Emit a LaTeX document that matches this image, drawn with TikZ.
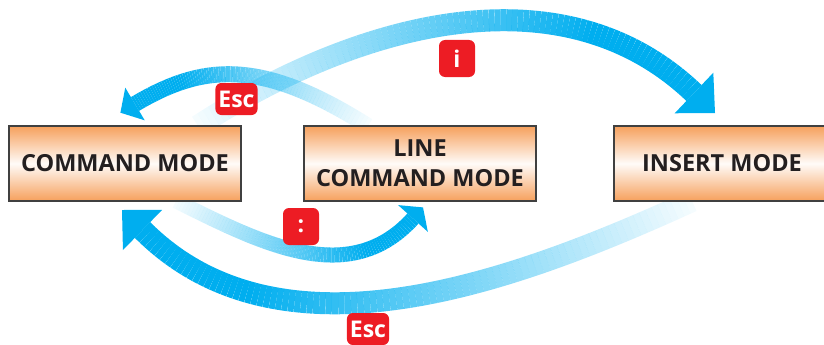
\documentclass[tikz,border=0pt]{standalone}
\usepackage{fontspec}
\setmainfont{Open Sans}
\usetikzlibrary{calc}

\definecolor{bandblue}{RGB}{0,174,239}
\definecolor{keyred}{RGB}{237,28,36}
\definecolor{boxorange}{RGB}{246,160,92}
\definecolor{boxtext}{RGB}{35,31,32}
\definecolor{boxline}{RGB}{64,64,64}

\tikzset{
  modebox/.style={draw=boxline, line width=1.5pt, top color=boxorange, bottom color=boxorange,
    middle color=boxorange!4!white, minimum height=75pt, inner sep=0pt, align=center,
    text=boxtext, font=\bfseries\fontsize{23.5}{30}\selectfont},
  keylabel/.style={fill=keyred, rounded corners=6pt, text=white, inner sep=3pt,
    minimum height=32pt, minimum width=36pt, font=\bfseries\fontsize{23}{23}\selectfont},
}

% fading band: start, control 1, control 2, band end, tip, band width, half head width
\newcommand{\fadearrow}[7]{%
  \foreach \k in {0,...,89}{%
    \pgfmathsetmacro{\posa}{\k/90}%
    \pgfmathsetmacro{\posb}{(\k+1)/90}%
    \pgfmathsetmacro{\bandop}{min(1,0.04+1.25*\posa)}%
    \path #1 .. controls #2 and #3 .. #4 coordinate[pos=\posa] (p) coordinate[pos=\posb] (q);%
    \draw[bandblue, line width=#6, opacity=\bandop] (p) -- (q);%
  }%
  \fill[bandblue] ($#4!#7!90:#5$) -- #5 -- ($#4!#7!-90:#5$) -- cycle;%
}

\begin{document}
\begin{tikzpicture}[x=1pt, y=-1pt]
  \useasboundingbox (0,0) rectangle (824,345);
  \clip (0,0) rectangle (824,345);

  % the three modes (only their places, drawn last)
  \path (125,163.5) coordinate (cmdc);
  \path (420,163.5) coordinate (linec);
  \path (722,163.5) coordinate (insc);

  % i: command mode -> insert mode
  \coordinate (iS) at ([xshift=73pt]cmdc |- 0,126);
  \coordinate (iC1) at (353,25);
  \coordinate (iC2) at (560,-35);
  \coordinate (iM) at (694,93);
  \coordinate (iE) at (715,113);
  \fadearrow{(iS)}{(iC1)}{(iC2)}{(iM)}{(iE)}{22pt}{28pt}

  % Esc: line command mode -> command mode
  \coordinate (eS) at ([xshift=-52pt]linec |- 0,126);
  \coordinate (eC1) at (262,59);
  \coordinate (eC2) at (204,63);
  \coordinate (eM) at (135,104);
  \coordinate (eE) at (120.4,112.7);
  \fadearrow{(eS)}{(eC1)}{(eC2)}{(eM)}{(eE)}{16pt}{19pt}

  % colon: command mode -> line command mode
  \coordinate (cS) at ([xshift=51pt]cmdc |- 0,201);
  \coordinate (cC1) at (261,243);
  \coordinate (cC2) at (349,289);
  \coordinate (cM) at (413,218.5);
  \coordinate (cE) at (423,207.4);
  \fadearrow{(cS)}{(cC1)}{(cC2)}{(cM)}{(cE)}{15pt}{20pt}

  % Esc: insert mode -> command mode
  \coordinate (xS) at ([xshift=-30pt]insc |- 0,201);
  \coordinate (xC1) at (514,282);
  \coordinate (xC2) at (281,369);
  \coordinate (xM) at (142.5,230);
  \coordinate (xE) at (122,210);
  \fadearrow{(xS)}{(xC1)}{(xC2)}{(xM)}{(xE)}{22pt}{28pt}

  \node[modebox, minimum width=232pt] (cmd) at (cmdc) {COMMAND MODE};
  \node[modebox, minimum width=232pt] (line) at (linec) {LINE\\COMMAND MODE};
  \node[modebox, minimum width=216pt] (ins) at (insc) {INSERT MODE};

  % keys
  \node[keylabel, minimum height=37pt] (ikey) at (457,58.5) {i};
  \node[keylabel] (esckeya) at (236.5,99) {Esc};
  \node[keylabel, minimum height=37pt] (colonkey) at (301,226.5) {:};
  \node[keylabel] (esckeyb) at (368,329) {Esc};
\end{tikzpicture}
\end{document}
